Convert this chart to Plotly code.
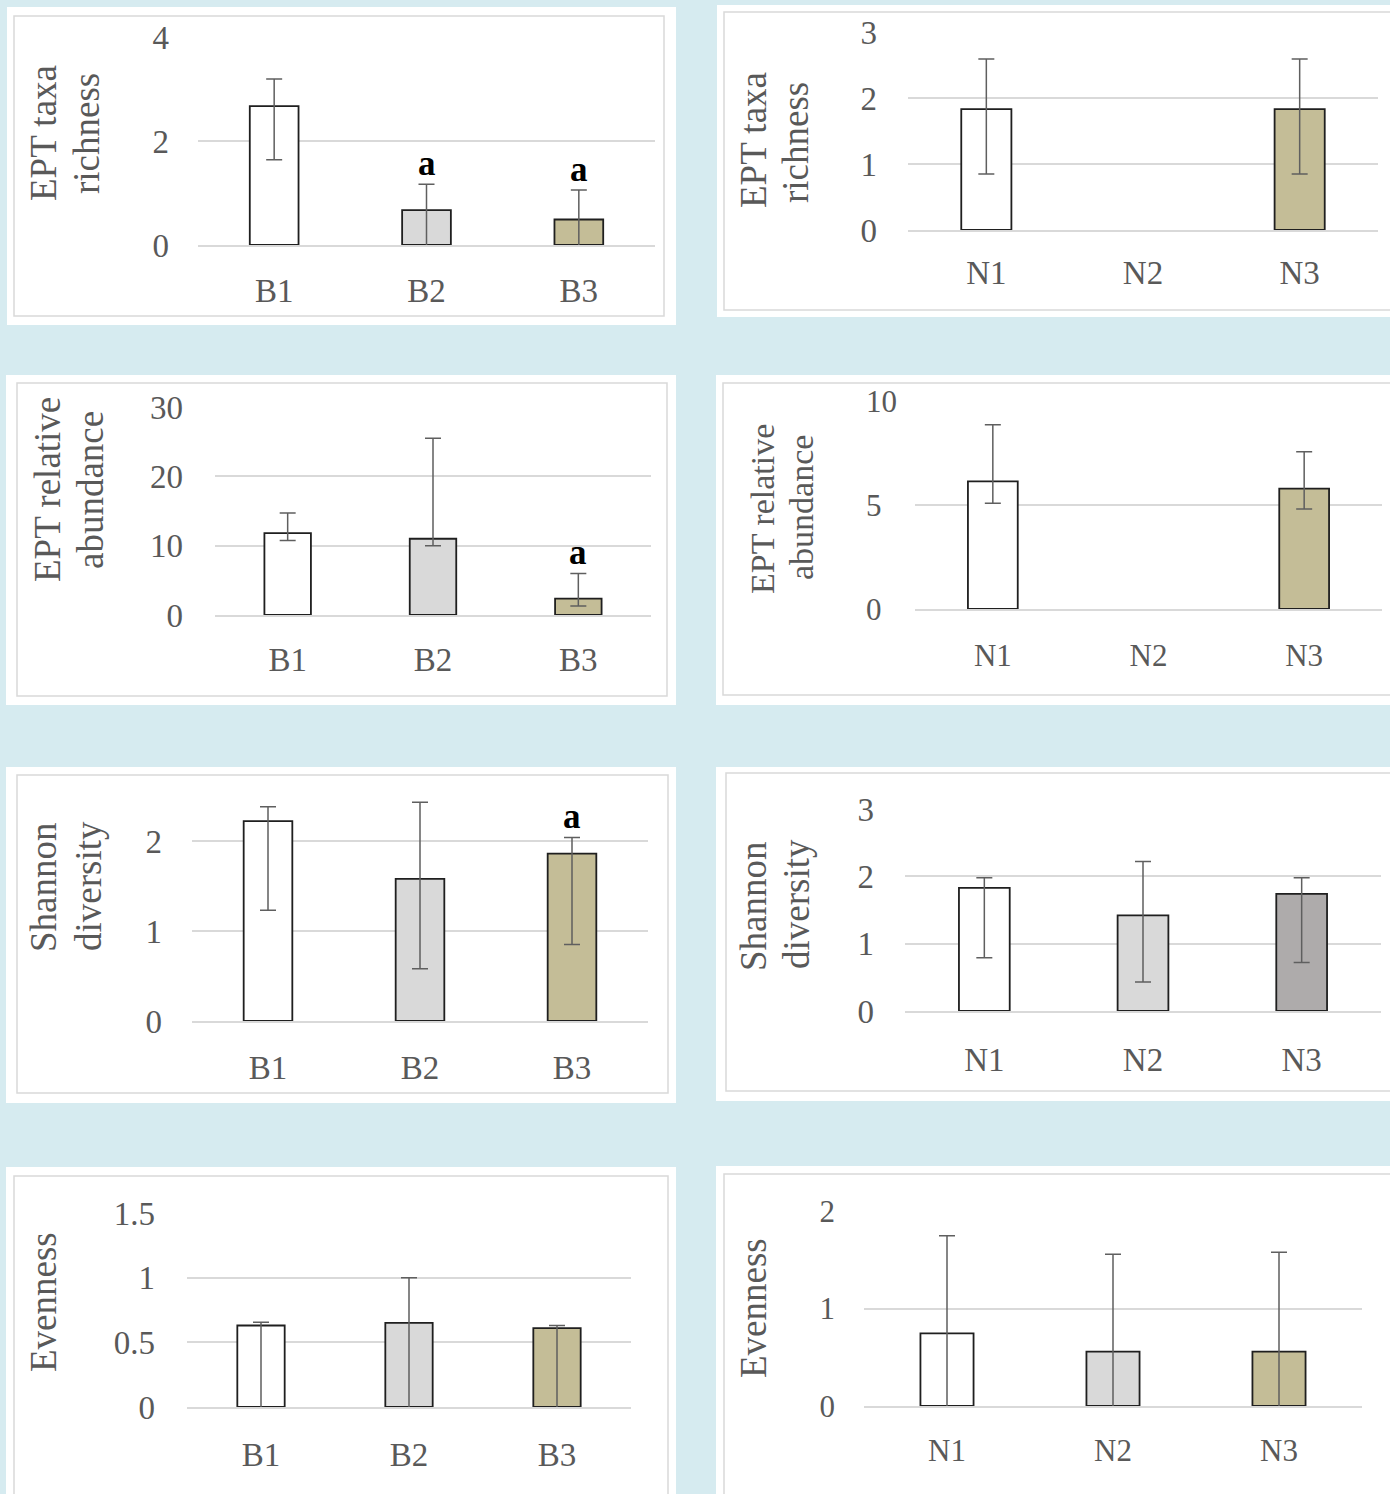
import plotly.graph_objects as go

W, H = 1390, 1494
BG = "#d6ebf0"
FONT = "Liberation Serif, Times New Roman, serif"
TXT = "#595959"
GRID = "#d9d9d9"
FIGSP = "\u2007"  # figure space, pads short tick labels where they sit centred

# ---- sites -------------------------------------------------------------
b_sites = ["B1", "B2", "B3"]
n_sites = ["N1", "N2", "N3"]

# bar fills per site
b_fill = ["#ffffff", "#d9d9d9", "#c4bd97"]
n_fill = ["#ffffff", "#d9d9d9", "#c4bd97"]
n_fill_shannon = ["#ffffff", "#d9d9d9", "#aeabab"]

# ---- EPT taxa richness ---------------------------------------------------
rich_b_mean = [2.67, 0.67, 0.49]
rich_b_up = [0.52, 0.50, 0.57]
rich_b_down = [1.03, 0.90, 0.80]
rich_b_sig = ["", "a", "a"]

rich_n_mean = [1.83, None, 1.83]
rich_n_up = [0.76, None, 0.76]
rich_n_down = [0.98, None, 0.98]

# ---- EPT relative abundance ---------------------------------------------
abund_b_mean = [11.8, 11.0, 2.35]
abund_b_up = [2.9, 14.5, 3.65]
abund_b_down = [1.05, 1.0, 1.05]
abund_b_sig = ["", "", "a"]

abund_n_mean = [6.14, None, 5.79]
abund_n_up = [2.72, None, 1.77]
abund_n_down = [1.06, None, 0.98]

# ---- Shannon diversity ---------------------------------------------------
shan_b_mean = [2.22, 1.58, 1.86]
shan_b_up = [0.16, 0.85, 0.18]
shan_b_down = [0.99, 1.00, 1.01]
shan_b_sig = ["", "", "a"]

shan_n_mean = [1.83, 1.42, 1.74]
shan_n_up = [0.15, 0.80, 0.24]
shan_n_down = [1.04, 0.99, 1.02]

# ---- Evenness ------------------------------------------------------------
even_b_mean = [0.63, 0.65, 0.61]
even_b_up = [0.025, 0.35, 0.02]
even_b_down = [0.70, 0.75, 0.70]

even_n_mean = [0.745, 0.557, 0.557]
even_n_up = [1.00, 1.00, 1.02]
even_n_down = [1.00, 1.00, 1.02]

# ---- axis ticks ----------------------------------------------------------
ticks_rich_b = [0, 2, 4]
ticks_rich_n = [0, 1, 2, 3]
ticks_abund_b = [0, 10, 20, 30]
ticks_abund_n = [0, 5, 10]
ticks_shan_b = [0, 1, 2]
ticks_shan_n = [0, 1, 2, 3]
ticks_even_b = [0, 0.5, 1, 1.5]
ticks_even_n = [0, 1, 2]

panels = [
    dict(sites=b_sites, mean=rich_b_mean, up=rich_b_up, down=rich_b_down, fill=b_fill,
         sig=rich_b_sig, ticks=ticks_rich_b, ymax=4, title=["EPT taxa", "richness"]),
    dict(sites=n_sites, mean=rich_n_mean, up=rich_n_up, down=rich_n_down, fill=n_fill,
         sig=None, ticks=ticks_rich_n, ymax=3, title=["EPT taxa", "richness"]),
    dict(sites=b_sites, mean=abund_b_mean, up=abund_b_up, down=abund_b_down, fill=b_fill,
         sig=abund_b_sig, ticks=ticks_abund_b, ymax=30, title=["EPT relative", "abundance"]),
    dict(sites=n_sites, mean=abund_n_mean, up=abund_n_up, down=abund_n_down, fill=n_fill,
         sig=None, ticks=ticks_abund_n, ymax=10, title=["EPT relative", "abundance"]),
    dict(sites=b_sites, mean=shan_b_mean, up=shan_b_up, down=shan_b_down, fill=b_fill,
         sig=shan_b_sig, ticks=ticks_shan_b, ymax=2.5, title=["Shannon", "diversity"]),
    dict(sites=n_sites, mean=shan_n_mean, up=shan_n_up, down=shan_n_down, fill=n_fill_shannon,
         sig=None, ticks=ticks_shan_n, ymax=3, title=["Shannon", "diversity"]),
    dict(sites=b_sites, mean=even_b_mean, up=even_b_up, down=even_b_down, fill=b_fill,
         sig=None, ticks=ticks_even_b, ymax=1.5, title=["Evenness"]),
    dict(sites=n_sites, mean=even_n_mean, up=even_n_up, down=even_n_down, fill=n_fill,
         sig=None, ticks=ticks_even_n, ymax=2, title=["Evenness"]),
]

# pixel geometry: white card, thin frame, plot area, title line centres, font sizes, label gaps
geom = [
    dict(card=(7, 7, 676, 325), frame=(14, 16, 664, 316), plot=(198, 37, 655, 245),
         tpos=[(43, 133), (86, 134)], tfs=37, kfs=33, ygap=28, xgap=16),
    dict(card=(717, 5, 1400, 317), frame=(724, 12, 1420, 310), plot=(908, 32, 1378, 230),
         tpos=[(753, 140), (796, 142)], tfs=37, kfs=33, ygap=30, xgap=13),
    dict(card=(6, 375, 676, 705), frame=(17, 383, 667, 696), plot=(215, 407, 651, 615),
         tpos=[(47, 490), (90, 490)], tfs=37, kfs=33, ygap=31, xgap=15),
    dict(card=(716, 375, 1400, 705), frame=(723, 383, 1420, 695), plot=(915, 401, 1382, 609),
         tpos=[(762, 509), (801, 508)], tfs=34, kfs=31, ygap=17, xgap=18, center_ticks=True),
    dict(card=(6, 767, 676, 1103), frame=(17, 775, 668, 1093), plot=(192, 796, 648, 1021),
         tpos=[(43, 887), (88, 886)], tfs=37, kfs=33, ygap=29, xgap=17),
    dict(card=(716, 767, 1400, 1101), frame=(726, 773, 1420, 1091), plot=(905, 809, 1381, 1011),
         tpos=[(753, 906), (796, 904)], tfs=37, kfs=33, ygap=30, xgap=19),
    dict(card=(6, 1167, 676, 1530), frame=(14, 1176, 668, 1530), plot=(187, 1213, 631, 1407),
         tpos=[(43, 1302)], tfs=37, kfs=33, ygap=31, xgap=18),
    dict(card=(716, 1166, 1400, 1530), frame=(724, 1174, 1420, 1530), plot=(864, 1211, 1362, 1406),
         tpos=[(753, 1308)], tfs=37, kfs=31, ygap=28, xgap=16),
]

BAR_WIDTH = 0.32


def fx(px):
    return px / W


def fy(py):
    return 1 - py / H


def tick_labels(vals, centred=False):
    labels = ["%g" % v for v in vals]
    if centred:
        longest = max(len(s) for s in labels)
        labels = [s + FIGSP * (longest - len(s)) for s in labels]
    return labels


fig = go.Figure()
shapes = []
annotations = []
layout_axes = {}

for i, (p, g) in enumerate(zip(panels, geom), start=1):
    xa = "x" if i == 1 else f"x{i}"
    ya = "y" if i == 1 else f"y{i}"
    xkey = "xaxis" if i == 1 else f"xaxis{i}"
    ykey = "yaxis" if i == 1 else f"yaxis{i}"

    # card and frame
    c = g["card"]
    shapes.append(dict(type="rect", xref="paper", yref="paper", layer="below",
                       x0=fx(c[0]), x1=fx(c[2]), y0=fy(c[3]), y1=fy(c[1]),
                       fillcolor="#ffffff", line=dict(width=0)))
    f = g["frame"]
    shapes.append(dict(type="rect", xref="paper", yref="paper", layer="below",
                       x0=fx(f[0]), x1=fx(f[2]), y0=fy(f[3]), y1=fy(f[1]),
                       fillcolor="rgba(0,0,0,0)", line=dict(color=GRID, width=1.5)))

    fig.add_trace(go.Bar(
        x=p["sites"], y=p["mean"], xaxis=xa, yaxis=ya,
        width=BAR_WIDTH,
        marker=dict(color=p["fill"], line=dict(color="#1f1f1f", width=1.8)),
        error_y=dict(type="data", symmetric=False, array=p["up"], arrayminus=p["down"],
                     color="#5f5f5f", thickness=1.5, width=8),
        showlegend=False, hoverinfo="skip",
    ))

    x0, y0, x1, y1 = g["plot"]
    layout_axes[xkey] = dict(
        domain=[fx(x0), fx(x1)], anchor=ya, type="category",
        categoryorder="array", categoryarray=p["sites"],
        showgrid=False, zeroline=False, showline=True, linecolor=GRID, linewidth=1.5,
        ticks="", tickfont=dict(family=FONT, size=g["kfs"], color=TXT),
        ticklabelstandoff=g["xgap"], fixedrange=True, automargin=False,
    )
    layout_axes[ykey] = dict(
        domain=[fy(y1), fy(y0)], anchor=xa, range=[0, p["ymax"]],
        tickmode="array", tickvals=p["ticks"],
        ticktext=tick_labels(p["ticks"], g.get("center_ticks", False)),
        showgrid=True, gridcolor=GRID, gridwidth=1.5, zeroline=False, showline=False,
        ticks="", tickfont=dict(family=FONT, size=g["kfs"], color=TXT),
        ticklabelstandoff=g["ygap"], fixedrange=True, automargin=False,
    )

    # rotated axis title, one annotation per line
    for text, (cx, cy) in zip(p["title"], g["tpos"]):
        annotations.append(dict(
            text=text, xref="paper", yref="paper", x=fx(cx), y=fy(cy),
            xanchor="center", yanchor="middle", textangle=-90, showarrow=False,
            font=dict(family=FONT, size=g["tfs"], color=TXT),
        ))

    # significance letters above the whiskers
    if p["sig"]:
        for site, m, u, s in zip(p["sites"], p["mean"], p["up"], p["sig"]):
            if s:
                annotations.append(dict(
                    text=f"<b>{s}</b>", xref=xa, yref=ya, x=site, y=m + u,
                    xanchor="center", yanchor="bottom", yshift=-1, showarrow=False,
                    font=dict(family=FONT, size=35, color="#000000"),
                ))

fig.update_layout(
    width=W, height=H, margin=dict(l=0, r=0, t=0, b=0, autoexpand=False),
    paper_bgcolor=BG, plot_bgcolor="rgba(0,0,0,0)",
    shapes=shapes, annotations=annotations, bargap=0.68,
    **layout_axes,
)

fig.write_html("out.html")
